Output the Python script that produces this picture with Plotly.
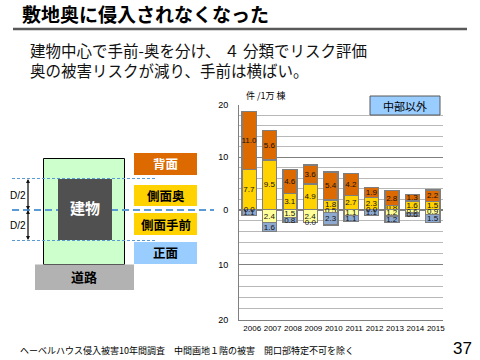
import plotly.graph_objects as go

years = ["2006","2007","2008","2009","2010","2011","2012","2013","2014","2015"]
back = [11.0,5.6,4.6,3.6,5.4,4.2,1.9,2.8,1.3,2.2]
side_far = [7.7,9.5,3.1,4.9,1.8,2.7,2.3,0.8,1.6,1.5]
side_near = [0.0,2.4,1.5,2.4,0.5,1.1,0.0,1.2,0.6,0.9]
front = [1.1,1.6,0.8,0.0,2.3,1.1,1.1,1.2,0.6,1.5]

W, H = 480, 360
FONT = "Noto Sans CJK JP"
ORANGE, YELLOW, PALE, BLUE, LBLUE = "#DC6A00", "#FFD200", "#FFFF99", "#8DA9D0", "#99CCFF"
BORDER = "#7F7F7F"
LABEL = dict(size=8, color="#111111", family="Liberation Sans")
def px(x): return x / W
def py(y): return 1 - y / H

fig = go.Figure()
def bar(vals, color, ya, xa):
    fig.add_trace(go.Bar(x=years, y=vals, xaxis=xa, yaxis=ya, marker=dict(color=color, line=dict(color=BORDER, width=1.4)),
                         text=[f"{v:.1f}" for v in vals], textposition="inside", insidetextanchor="middle",
                         constraintext="none", textangle=0, insidetextfont=LABEL,
                         showlegend=False, cliponaxis=False))
bar(side_far, YELLOW, "y", "x")
bar(back, ORANGE, "y", "x")
bar(side_near, PALE, "y2", "x2")
bar(front, BLUE, "y2", "x2")

# zero-height segments still carry a "0.0" label in the reference
zx, zy = [], []
for yr, n, f in zip(years, side_near, front):
    if n == 0:
        zx.append(yr); zy.append(0)
    if f == 0:
        zx.append(yr); zy.append(n + f)
fig.add_trace(go.Scatter(x=zx, y=zy, xaxis="x2", yaxis="y2", mode="text", text=["0.0"] * len(zx), textposition="middle center",
                         textfont=LABEL, showlegend=False, cliponaxis=False))

shapes = []
def rect(x0, y0, x1, y1, fill, line=None, lw=1):
    shapes.append(dict(type="rect", xref="paper", yref="paper", x0=px(x0), x1=px(x1), y0=py(y0), y1=py(y1),
                       fillcolor=fill, line=dict(color=line or fill, width=lw if line else 0)))
def line(x0, y0, x1, y1, color, lw, dash="solid"):
    shapes.append(dict(type="line", xref="paper", yref="paper", x0=px(x0), x1=px(x1), y0=py(y0), y1=py(y1),
                       line=dict(color=color, width=lw, dash=dash)))
line(13, 29, 467, 29, "#595959", 2.5)
rect(43.5, 158.5, 124.5, 264.5, "#CCFFCC", "#000000", 1)
rect(35, 264.5, 134, 290, "#B2B2B2")
line(12, 178.5, 155, 178.5, "#5B9BD5", 1, "3px,2px")
line(12, 240.5, 155, 240.5, "#5B9BD5", 1, "3px,2px")
line(12, 210, 214, 210, "#5B9BD5", 2.2, "7px,4px")
rect(58, 179, 112, 240, "#505050")
rect(134, 153, 197, 175, ORANGE)
rect(134, 185, 197, 206, YELLOW)
rect(134, 213, 197, 235, YELLOW)
rect(134, 242, 197, 264, LBLUE)
rect(370, 96, 440, 115, LBLUE, "#595959", 1)

ann = []
def txt(x, y, s, size, color="#000000", bold=False, anchor="center", family=FONT):
    ann.append(dict(xref="paper", yref="paper", x=px(x), y=py(y), text=f"<b>{s}</b>" if bold else s, showarrow=False,
                    xanchor=anchor, yanchor="middle", font=dict(size=size, color=color, family=family)))
def arrow(y0, y1):
    for a, b in ((y0, y1), (y1, y0)):
        ann.append(dict(xref="paper", yref="paper", axref="pixel", ayref="pixel", x=px(28), y=py(b), ax=0, ay=a - b, text="",
                        showarrow=True, arrowhead=2, arrowsize=1, arrowwidth=0.8, arrowcolor="#111111"))
txt(20, 14, "敷地奥に侵入されなくなった", 19, bold=True, anchor="left")
txt(28, 50, "建物中心で手前-奥を分け、 ４ 分類でリスク評価", 15.5, color="#111111", anchor="left")
txt(28, 70, "奥の被害リスクが減り、手前は横ばい。", 15.5, color="#111111", anchor="left")
txt(85, 208, "建物", 15, color="#FFFFFF", bold=True)
txt(84, 276, "道路", 13, bold=True)
txt(165.5, 164, "背面", 12.5, color="#FFFFFF", bold=True)
txt(165.5, 195.5, "側面奥", 12.5, bold=True)
txt(165.5, 224, "側面手前", 12.5, bold=True)
txt(165.5, 253, "正面", 12.5, bold=True)
txt(18, 195, "D/2", 10, family="Liberation Sans")
txt(18, 225, "D/2", 10, family="Liberation Sans")
arrow(179, 210)
arrow(210, 240)
txt(405, 105.5, "中部以外", 11)
txt(244, 96, "件 /1万 棟", 9, anchor="left")
txt(18, 350, "ヘーベルハウス侵入被害10年間調査　中間画地１階の被害　開口部特定不可を除く", 9, anchor="left")
txt(474, 348, "37", 17, anchor="right", family="Liberation Sans")

grid = dict(showline=True, linecolor=BORDER, linewidth=1, ticks="", gridcolor="#808080", gridwidth=1.2, automargin=False,
            minor=dict(dtick=2, showgrid=True, gridcolor="#B8B8B8", gridwidth=1.2), zeroline=True, zerolinecolor="#808080",
            ticklabelstandoff=8, tickfont=dict(size=9, family="Liberation Sans", color="#000000"))
fig.update_layout(
    width=W, height=H, margin=dict(l=0, r=0, t=0, b=0), autosize=False, paper_bgcolor="#FFFFFF", plot_bgcolor="#FFFFFF",
    barmode="stack", bargap=0.3, shapes=shapes, annotations=ann,
    xaxis=dict(domain=[px(239), px(443)], anchor="y", showticklabels=False, ticks="", showgrid=False, showline=False, type="category", automargin=False,
               categoryorder="array", categoryarray=years),
    xaxis2=dict(domain=[px(239), px(443)], anchor="y2", ticks="", showgrid=False, showline=True, linecolor=BORDER, type="category", automargin=False,
                categoryorder="array", categoryarray=years,
                tickangle=0, tickfont=dict(size=8, family="Liberation Sans", color="#000000"), ticklabelshift=3),
    yaxis=dict(domain=[py(209.5), py(105)], anchor="x", range=[0, 20], tickvals=[0, 10, 20], **grid),
    yaxis2=dict(domain=[py(320), py(209.5)], anchor="x2", range=[20, 0], tickvals=[10, 20], **grid),
)
fig.write_html("out.html", config=dict(displayModeBar=False),
               post_script="document.documentElement.style.overflow='hidden';document.documentElement.style.margin='0';document.body.style.margin='0';document.body.style.overflow='hidden';")
